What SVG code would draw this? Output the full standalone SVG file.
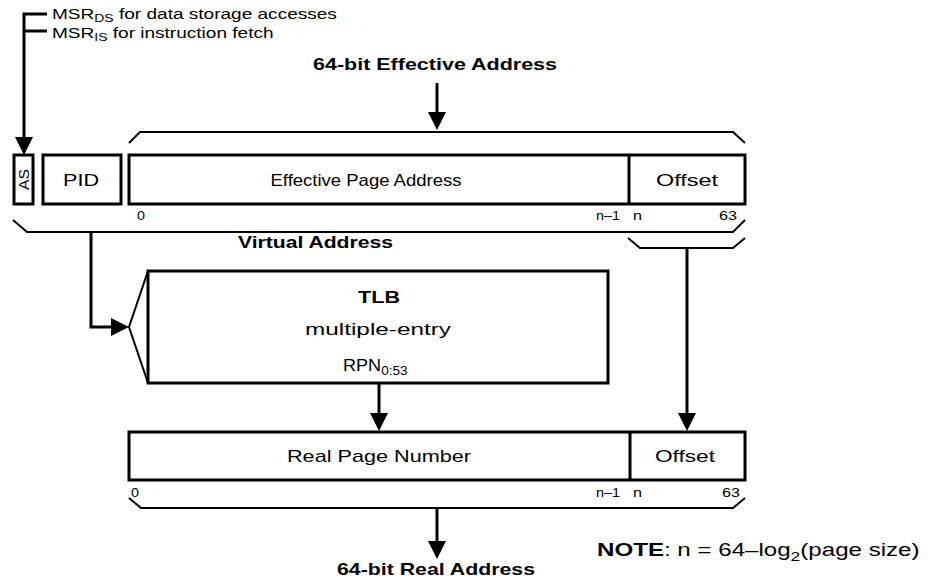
<svg xmlns="http://www.w3.org/2000/svg" width="929" height="583" viewBox="0 0 929 583">
<defs>
<marker id="ah" markerWidth="6" markerHeight="6" refX="3" refY="3" orient="auto" markerUnits="strokeWidth"><path d="M0,0 L6,3 L0,6 Z" fill="#000"/></marker>
<style>
text{font-family:"Liberation Sans",Arial,sans-serif;fill:#000}
.box{fill:#fff;stroke:#000;stroke-width:3}
.br{fill:none;stroke:#000;stroke-width:2}
.ln{fill:none;stroke:#000;stroke-width:3}
.lbl{font-size:17px;text-anchor:middle}
.b{font-size:17px;font-weight:bold;text-anchor:middle}
.bit{font-size:13px}
</style>
</defs>
<rect width="929" height="583" fill="#fff"/>
<g id="msr">
<text transform="translate(52,19) scale(1.27,1)" font-size="15">MSR<tspan font-size="11" dy="3">DS</tspan><tspan dy="-3"> for data storage accesses</tspan></text>
<text transform="translate(52,38) scale(1.27,1)" font-size="15">MSR<tspan font-size="11" dy="3">IS</tspan><tspan dy="-3"> for instruction fetch</tspan></text>
</g>
<g id="ea-label"><text class="b" x="435" y="70" textLength="244" lengthAdjust="spacingAndGlyphs">64-bit Effective Address</text></g>
<g id="as"><rect class="box" x="14" y="155" width="19" height="49"/><text transform="translate(28.5,179.5) rotate(-90)" font-size="15" text-anchor="middle" textLength="21" lengthAdjust="spacingAndGlyphs">AS</text></g>
<g id="pid"><rect class="box" x="43" y="155" width="78" height="49"/><text class="lbl" x="81" y="186" textLength="36" lengthAdjust="spacingAndGlyphs">PID</text></g>
<g id="ea"><rect class="box" x="129" y="155" width="616" height="49"/><line class="ln" x1="629" y1="155" x2="629" y2="204"/>
<text class="lbl" x="366" y="186" textLength="191" lengthAdjust="spacingAndGlyphs">Effective Page Address</text><text class="lbl" x="687" y="186" textLength="62" lengthAdjust="spacingAndGlyphs">Offset</text>
<text class="bit" x="137" y="220" textLength="8" lengthAdjust="spacingAndGlyphs">0</text><text class="bit" x="596" y="220" textLength="24" lengthAdjust="spacingAndGlyphs">n–1</text><text class="bit" x="633" y="220" textLength="9" lengthAdjust="spacingAndGlyphs">n</text><text class="bit" x="719" y="220" textLength="18" lengthAdjust="spacingAndGlyphs">63</text></g>
<g id="va-label"><text class="b" x="315.5" y="248" textLength="155" lengthAdjust="spacingAndGlyphs">Virtual Address</text></g>
<g id="tlb"><path class="box" d="M148,271 H608 V383 H148 Z"/><path d="M148,271 L129,327 L148,383" fill="none" stroke="#000" stroke-width="2"/><line x1="148" y1="271" x2="148" y2="383" stroke="#000" stroke-width="1"/>
<text class="b" x="379" y="303" font-size="18" textLength="42" lengthAdjust="spacingAndGlyphs">TLB</text><text class="lbl" x="378" y="335" textLength="146" lengthAdjust="spacingAndGlyphs">multiple-entry</text>
<text transform="translate(343,371) scale(1.13,1)" font-size="16">RPN<tspan font-size="12" dy="4">0:53</tspan></text></g>
<g id="ra"><rect class="box" x="129" y="432" width="616" height="48"/><line class="ln" x1="630" y1="432" x2="630" y2="480"/>
<text class="lbl" x="379" y="462" textLength="184" lengthAdjust="spacingAndGlyphs">Real Page Number</text><text class="lbl" x="685" y="462" textLength="60" lengthAdjust="spacingAndGlyphs">Offset</text>
<text class="bit" x="131" y="497" textLength="8" lengthAdjust="spacingAndGlyphs">0</text><text class="bit" x="596" y="497" textLength="24" lengthAdjust="spacingAndGlyphs">n–1</text><text class="bit" x="633" y="497" textLength="9" lengthAdjust="spacingAndGlyphs">n</text><text class="bit" x="722" y="497" textLength="18" lengthAdjust="spacingAndGlyphs">63</text></g>
<g id="ra-label"><text class="b" x="436" y="575" textLength="198" lengthAdjust="spacingAndGlyphs">64-bit Real Address</text></g>
<g id="note"><text transform="translate(597,556) scale(1.34,1)" font-size="18"><tspan font-weight="bold">NOTE</tspan>: n = 64–log<tspan font-size="13" dy="5">2</tspan><tspan dy="-5">(page size)</tspan></text></g>
<g id="connectors">
<path class="br" d="M129,143 L140,132 H733 L745,143"/>
<path class="br" d="M13,220 L27,232 H733 L745,220"/>
<path class="br" d="M628,238 L640,248 H733 L745,238"/>
<path class="br" d="M129,498 L141,508 H733 L745,498"/>
<path class="ln" d="M47,14 H24 V146" marker-end="url(#ah)"/>
<path class="ln" d="M47,31 H24"/>
<path class="ln" d="M437,83 V121" marker-end="url(#ah)"/>
<path class="ln" d="M91,232 V327 H120" marker-end="url(#ah)"/>
<path class="ln" d="M687,248 V422" marker-end="url(#ah)"/>
<path class="ln" d="M379,383 V422" marker-end="url(#ah)"/>
<path class="ln" d="M437,509 V550" marker-end="url(#ah)"/>
</g>
</svg>
